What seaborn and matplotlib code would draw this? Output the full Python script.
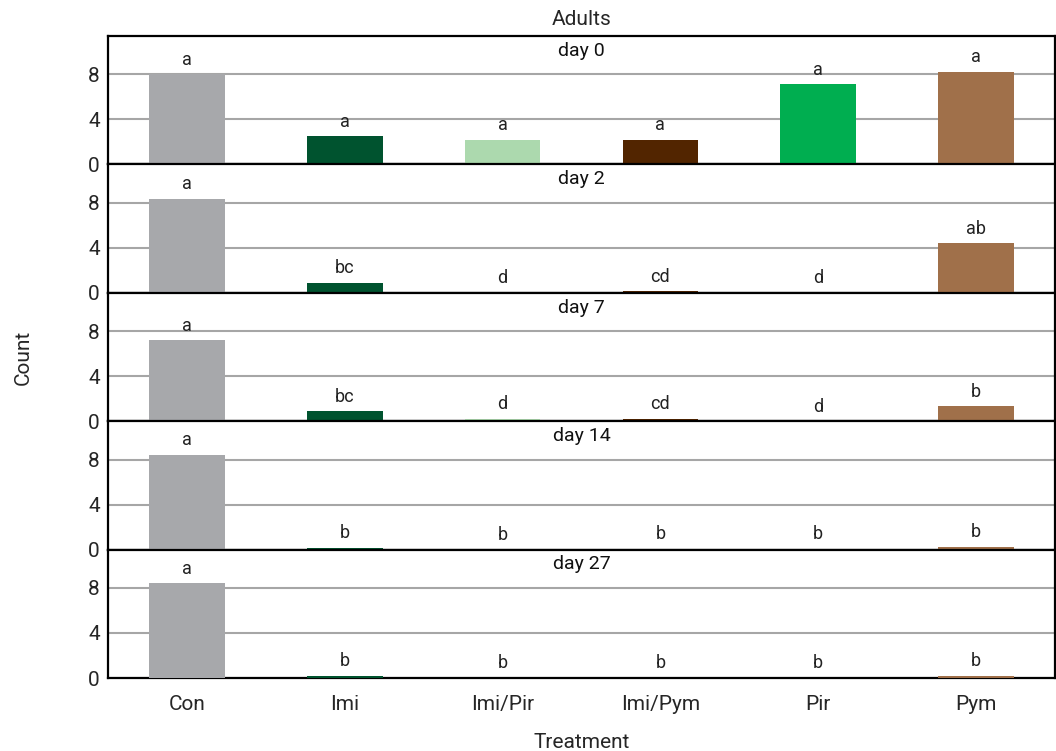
import matplotlib
matplotlib.use("Agg")
import matplotlib.pyplot as plt
import seaborn as sns
import pandas as pd

treatments = ["Con", "Imi", "Imi/Pir", "Imi/Pym", "Pir", "Pym"]
days = ["day 0", "day 2", "day 7", "day 14", "day 27"]

day0 = [8.0, 2.5, 2.2, 2.2, 7.1, 8.25]
day2 = [8.35, 0.88, 0.0, 0.12, 0.0, 4.4]
day7 = [7.2, 0.9, 0.2, 0.2, 0.0, 1.33]
day14 = [8.4, 0.18, 0.03, 0.05, 0.05, 0.27]
day27 = [8.4, 0.2, 0.0, 0.0, 0.0, 0.2]

letters0 = ["a", "a", "a", "a", "a", "a"]
letters2 = ["a", "bc", "d", "cd", "d", "ab"]
letters7 = ["a", "bc", "d", "cd", "d", "b"]
letters14 = ["a", "b", "b", "b", "b", "b"]
letters27 = ["a", "b", "b", "b", "b", "b"]

colors = ["#a7a8ab", "#00532f", "#acd9ae", "#522500", "#00ae50", "#a0704a"]

values = [day0, day2, day7, day14, day27]
letters = [letters0, letters2, letters7, letters14, letters27]

sns.set_theme(style="white")
plt.rcParams["font.family"] = ["Roboto", "DejaVu Sans"]

fig, axes = plt.subplots(5, 1, figsize=(10.56, 7.51), dpi=100, sharex=True)
fig.subplots_adjust(left=0.1023, right=0.999, top=0.952, bottom=0.0972, hspace=0)

palette = dict(zip(treatments, colors))
for ax, day, vals, labs in zip(axes, days, values, letters):
    df = pd.DataFrame({"Treatment": treatments, "Count": vals})
    sns.barplot(data=df, x="Treatment", y="Count", hue="Treatment",
                palette=palette, order=treatments, hue_order=treatments,
                width=0.48, legend=False, ax=ax, zorder=3, saturation=1,
                linewidth=0, edgecolor="none")
    ax.set_ylim(0, 11.4)
    ax.set_yticks([0, 4, 8])
    ax.yaxis.grid(True, color="#a6a6a6", linewidth=1.5, zorder=0)
    ax.set_axisbelow(True)
    for s in ax.spines.values():
        s.set_color("black")
        s.set_linewidth(1.6)
    ax.tick_params(axis="y", labelsize=15, length=0, pad=6)
    ax.tick_params(axis="x", labelsize=15, length=0, pad=12)
    ax.set_ylabel("")
    ax.set_xlabel("")
    for i, (v, t) in enumerate(zip(vals, labs)):
        ax.annotate(t, (i, v), xytext=(0, 4), textcoords="offset points",
                    ha="center", va="bottom", fontsize=13, color="#222222")
    ax.text(0.5, 0.955, day, transform=ax.transAxes, ha="center", va="top",
            fontsize=14, color="#111111")

axes[-1].set_xlabel("Treatment", fontsize=15, labelpad=14)
fig.text(0.022, 0.5245, "Count", rotation=90, ha="center", va="center", fontsize=15)
fig.suptitle("Adults", x=0.551, y=0.987, fontsize=15)

fig.savefig("out.png", dpi=100)
